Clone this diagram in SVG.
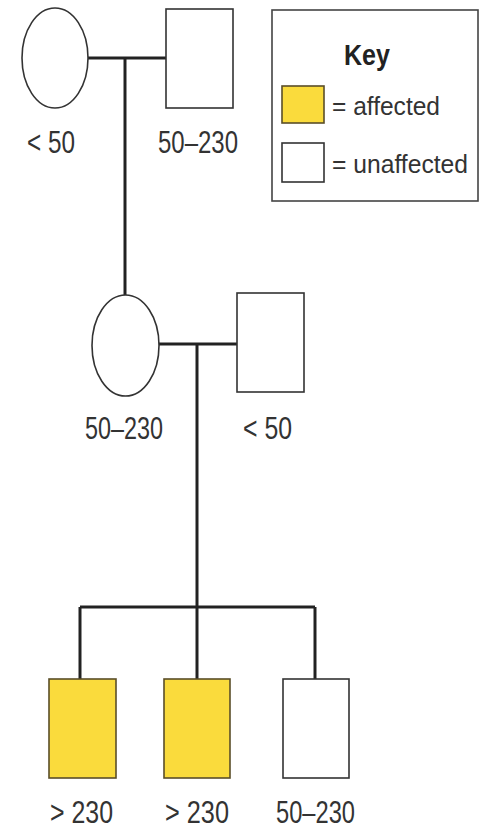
<svg xmlns="http://www.w3.org/2000/svg" width="483" height="831" viewBox="0 0 483 831">
<style>
.bg{fill:#fff}
.shape{fill:#fff;stroke:#333;stroke-width:1.6}
.aff{fill:#FADB3C;stroke:#5a4e28;stroke-width:1.6}
.conn{stroke:#222;stroke-width:3;fill:none}
.lbl{font-family:"Liberation Sans",Arial,sans-serif;font-size:31px;fill:#333}
.klbl{font-family:"Liberation Sans",Arial,sans-serif;font-size:26px;fill:#333}
.key{font-family:"Liberation Sans",Arial,sans-serif;font-size:29px;font-weight:bold;fill:#222}
</style>
<rect class="bg" x="0" y="0" width="483" height="831"/>
<g id="connectors">
<path class="conn" d="M88 58 H166"/>
<path class="conn" d="M125 58 V295"/>
<path class="conn" d="M159 344 H237"/>
<path class="conn" d="M197 344 V679"/>
<path class="conn" d="M80 607 H315"/>
<path class="conn" d="M80 607 V679"/>
<path class="conn" d="M315 607 V679"/>
</g>
<g id="gen1-female">
<ellipse class="shape" cx="55" cy="58" rx="33" ry="50"/>
<text class="lbl" x="27" y="153" textLength="48" lengthAdjust="spacingAndGlyphs">&lt; 50</text>
</g>
<g id="gen1-male">
<rect class="shape" x="166" y="9" width="67" height="99"/>
<text class="lbl" x="158" y="153" textLength="80" lengthAdjust="spacingAndGlyphs">50–230</text>
</g>
<g id="gen2-female">
<ellipse class="shape" cx="125.5" cy="345.5" rx="33.5" ry="50.5"/>
<text class="lbl" x="85" y="439" textLength="78" lengthAdjust="spacingAndGlyphs">50–230</text>
</g>
<g id="gen2-male">
<rect class="shape" x="237" y="293" width="67" height="99"/>
<text class="lbl" x="243" y="439" textLength="49" lengthAdjust="spacingAndGlyphs">&lt; 50</text>
</g>
<g id="child1">
<rect class="aff" x="49" y="679" width="67" height="99"/>
<text class="lbl" x="50" y="823" textLength="63" lengthAdjust="spacingAndGlyphs">&gt; 230</text>
</g>
<g id="child2">
<rect class="aff" x="164" y="679" width="66" height="99"/>
<text class="lbl" x="165" y="823" textLength="64" lengthAdjust="spacingAndGlyphs">&gt; 230</text>
</g>
<g id="child3">
<rect class="shape" x="283" y="679" width="66" height="99"/>
<text class="lbl" x="276" y="823" textLength="79" lengthAdjust="spacingAndGlyphs">50–230</text>
</g>
<g id="key">
<rect x="272" y="10" width="206" height="191" fill="#fff" stroke="#444" stroke-width="1.6"/>
<text class="key" x="367" y="65" text-anchor="middle" textLength="46" lengthAdjust="spacingAndGlyphs">Key</text>
<rect class="aff" x="282" y="86" width="42" height="37"/>
<text class="klbl" x="332" y="115" textLength="108" lengthAdjust="spacingAndGlyphs">= affected</text>
<rect class="shape" x="282" y="143" width="42" height="39"/>
<text class="klbl" x="332" y="173" textLength="136" lengthAdjust="spacingAndGlyphs">= unaffected</text>
</g>
</svg>
